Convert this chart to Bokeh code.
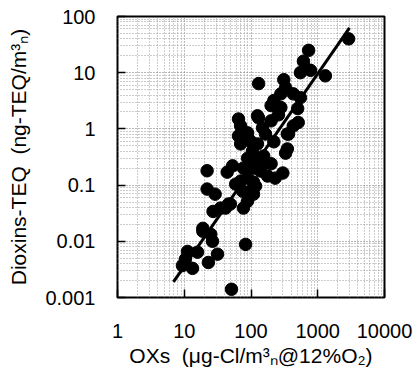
import numpy as np
from bokeh.plotting import figure
from bokeh.models import FixedTicker, CustomJSTickFormatter
from bokeh.embed import file_html
from bokeh.resources import INLINE

# OXs (ug-Cl/m3N @12%O2) vs Dioxins-TEQ (ng-TEQ/m3N)
ox = [2900, 730, 610, 650, 780, 1300, 550, 130, 310, 330, 430, 280, 220, 200,
      280, 550, 500, 510, 430, 130, 65, 70, 350, 165, 220, 65, 70, 125, 105,
      330, 350, 155, 89, 125, 200, 22, 44, 53, 77, 109, 300, 230, 177, 89, 70,
      109, 22, 29, 75, 109, 89, 77, 46, 35, 27, 19, 25, 26.5, 83, 11.2, 15.8,
      31.5, 10.4, 23, 9.4, 13.3, 51, 98, 149, 200, 258, 117, 59, 139, 89, 365,
      125, 155, 98, 49, 41.5, 19]
teq = [40, 25, 16, 12, 11, 8.8, 10, 6.4, 7.5, 5.4, 4.2, 4.2, 3.2, 2.6,
       2.4, 3.6, 2.3, 1.3, 1.13, 1.57, 1.5, 1.13, 0.81, 0.81, 0.59, 0.75, 0.54,
       0.54, 0.40, 0.37, 0.44, 0.33, 0.30, 0.27, 0.24, 0.18, 0.17, 0.22, 0.20,
       0.20, 0.164, 0.133, 0.145, 0.133, 0.118, 0.113, 0.085, 0.069, 0.078,
       0.069, 0.052, 0.039, 0.046, 0.039, 0.034, 0.017, 0.0133, 0.010, 0.0088,
       0.0066, 0.0064, 0.0059, 0.0048, 0.0042, 0.0037, 0.0033, 0.0014, 0.61,
       1.04, 1.39, 1.78, 0.096, 0.104, 0.178, 0.85, 0.81, 1.71, 0.24, 0.078,
       0.046, 0.039, 0.0151]

# regression line end points
fit_ox = [6.9, 2990]
fit_teq = [0.0019, 63]

x_ticks = [1, 10, 100, 1000, 10000]
y_ticks = [0.001, 0.01, 0.1, 1, 10, 100]

x_title = "OXs\u00a0\u00a0(\u03bcg-Cl/m\u00b3\u2099@12%O\u2082)"
y_title = "Dioxins-TEQ\u00a0\u00a0(ng-TEQ/m\u00b3\u2099)"

p = figure(x_axis_type="log", y_axis_type="log",
           x_range=(1, 10000), y_range=(0.001, 100),
           frame_width=267, frame_height=281,
           min_border_left=117, min_border_right=36,
           min_border_top=16, min_border_bottom=80,
           output_backend="svg", toolbar_location=None,
           background_fill_color="white", border_fill_color="white")

def minors(lo, hi):
    out = []
    for k in range(lo, hi):
        for m in range(2, 10):
            out.append(m * 10.0 ** k)
    return out

p.xaxis.ticker = FixedTicker(ticks=x_ticks, minor_ticks=minors(0, 4))
p.yaxis.ticker = FixedTicker(ticks=y_ticks, minor_ticks=minors(-3, 2))
fmt = CustomJSTickFormatter(code="return tick >= 1 ? tick.toFixed(0) : tick.toPrecision(1);")
p.xaxis.formatter = fmt
p.yaxis.formatter = fmt

for ax in (p.xaxis, p.yaxis):
    ax.axis_line_color = None
    ax.major_tick_in = 8
    ax.major_tick_out = 0
    ax.major_tick_line_color = "black"
    ax.major_tick_line_width = 1.5
    ax.minor_tick_line_color = None
    ax.major_label_text_font = "Liberation Sans"
    ax.major_label_text_font_size = "20px"
    ax.major_label_text_color = "black"
    ax.axis_label_text_font = "Liberation Sans"
    ax.axis_label_text_font_size = "21px"
    ax.axis_label_text_font_style = "normal"
    ax.axis_label_text_color = "black"
p.xaxis.major_label_standoff = 22
p.yaxis.major_label_standoff = 18
p.xaxis.axis_label = x_title
p.yaxis.axis_label = y_title
p.xaxis.axis_label_standoff = 3
p.yaxis.axis_label_standoff = 12

for g in (p.xgrid, p.ygrid):
    g.grid_line_color = "#777777"
    g.grid_line_dash = "1 2"
    g.grid_line_width = 1
    g.minor_grid_line_color = "#999999"
    g.minor_grid_line_dash = "1 2"
    g.minor_grid_line_width = 1

p.outline_line_color = "black"
p.outline_line_width = 2
p.outline_line_alpha = 1

p.line(fit_ox, fit_teq, line_color="black", line_width=3)
p.scatter(ox, teq, size=12.5, fill_color="black", line_color="black")

open("out.html", "w").write(file_html(p, INLINE))
